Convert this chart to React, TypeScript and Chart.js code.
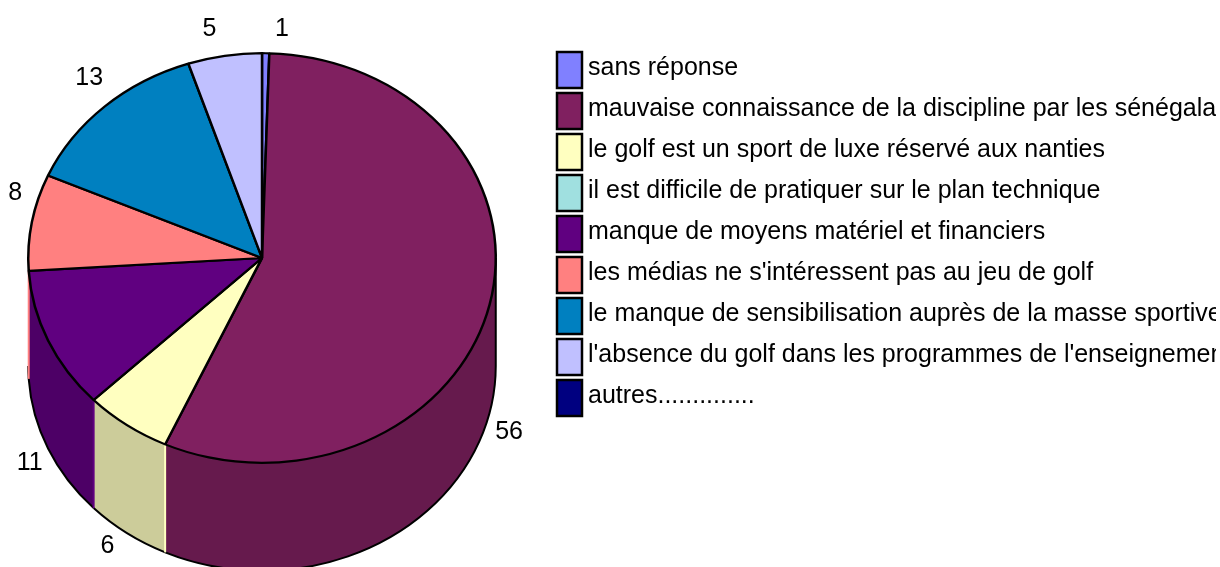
import React, { useEffect, useRef } from "react";
import { Chart, registerables } from "chart.js";

Chart.register(...registerables);

const categories = [
  "sans réponse",
  "mauvaise connaissance de la discipline par les sénégalais",
  "le golf est un sport de luxe réservé aux nanties",
  "il est difficile de pratiquer sur le plan technique",
  "manque de moyens matériel et financiers",
  "les médias ne s'intéressent pas au jeu de golf",
  "le manque de sensibilisation auprès de la masse sportive",
  "l'absence du golf dans les programmes de l'enseignement",
  "autres..............",
];
const values = [0.5, 56.3, 6, 0, 11.2, 7.6, 13.3, 5.1, 0];
const topColors = ["#8080ff", "#802060", "#ffffc0", "#a0e0e0", "#600080", "#ff8080", "#0080c0", "#c0c0ff", "#000080"];
const wallColors = ["#6666cc", "#661a4d", "#cccc9a", "#80b3b3", "#4d0066", "#cc6666", "#006699", "#9a9acc", "#000066"];
// small shifts of each value label from its slice's radial anchor
const labelNudgeX = [16, 0, -8, 0, 0, 3, -2, -12, 0];
const labelNudgeY = [-5, 14, -4, 0, 6, -27, -15, -8, 0];

const FONT = '25px "Liberation Sans", Arial, sans-serif';
const SQUASH = 205 / 234;
const DEPTH = 108;
const LABEL_GAP = 20;

const pie3d = {
  id: "pie3d",
  beforeDatasetsDraw(chart: any) {
    const { ctx } = chart;
    const arcs = chart.getDatasetMeta(0).data;
    ctx.save();
    arcs.forEach((arc: any, i: number) => {
      const { x, y, startAngle, endAngle, outerRadius } = arc.getProps(["x", "y", "startAngle", "endAngle", "outerRadius"], true);
      const a0 = Math.max(startAngle, 0);
      const a1 = Math.min(endAngle, Math.PI);
      if (a1 <= a0 || values[i] === 0) return;
      const rx = outerRadius;
      const ry = outerRadius * SQUASH;
      ctx.beginPath();
      ctx.ellipse(x, y, rx, ry, 0, a0, a1);
      ctx.ellipse(x, y + DEPTH, rx, ry, 0, a1, a0, true);
      ctx.closePath();
      ctx.fillStyle = wallColors[i];
      ctx.fill();
      ctx.beginPath();
      ctx.ellipse(x, y + DEPTH, rx, ry, 0, a0, a1);
      ctx.lineWidth = 2;
      ctx.strokeStyle = "#000";
      ctx.stroke();
    });
    arcs.forEach((arc: any, i: number) => {
      const { x, y, startAngle, endAngle, outerRadius } = arc.getProps(["x", "y", "startAngle", "endAngle", "outerRadius"], true);
      if (values[i] === 0) return;
      const rx = outerRadius;
      const ry = outerRadius * SQUASH;
      if (startAngle < 0 && endAngle > 0) {
        ctx.beginPath();
        ctx.moveTo(x + rx, y);
        ctx.lineTo(x + rx, y + DEPTH);
        ctx.strokeStyle = "#000";
        ctx.lineWidth = 2;
        ctx.stroke();
      }
      if (startAngle >= 0 && startAngle <= Math.PI) {
        const ex = x + rx * Math.cos(startAngle);
        const ey = y + ry * Math.sin(startAngle);
        ctx.beginPath();
        ctx.moveTo(ex, ey);
        ctx.lineTo(ex, ey + DEPTH);
        ctx.strokeStyle = topColors[i];
        ctx.lineWidth = 2;
        ctx.stroke();
      }
    });
    ctx.restore();
    const { x, y } = arcs[0].getProps(["x", "y"], true);
    ctx.save();
    ctx.translate(x, y);
    ctx.scale(1, SQUASH);
    ctx.translate(-x, -y);
  },
  afterDatasetsDraw(chart: any) {
    const { ctx } = chart;
    ctx.restore();
    const arcs = chart.getDatasetMeta(0).data;
    ctx.save();
    ctx.font = FONT;
    ctx.fillStyle = "#000";
    ctx.textAlign = "center";
    ctx.textBaseline = "middle";
    arcs.forEach((arc: any, i: number) => {
      if (values[i] === 0) return;
      const { x, y, startAngle, endAngle, outerRadius } = arc.getProps(["x", "y", "startAngle", "endAngle", "outerRadius"], true);
      const mid = (startAngle + endAngle) / 2;
      const s = Math.sin(mid);
      const lx = x + (outerRadius + LABEL_GAP) * Math.cos(mid) + labelNudgeX[i];
      const ly = y + (outerRadius * SQUASH + LABEL_GAP) * s + (s > 0 ? DEPTH : 0) + labelNudgeY[i] + 1;
      ctx.fillText(String(Math.round(values[i])), lx, ly);
    });
    // legend
    const boxX = 557, boxTop = 52, boxW = 25, boxH = 36, pitch = 41;
    ctx.textAlign = "left";
    categories.forEach((label, i) => {
      const top = boxTop + i * pitch;
      ctx.fillStyle = topColors[i];
      ctx.fillRect(boxX, top, boxW, boxH);
      ctx.strokeStyle = "#000";
      ctx.lineWidth = 2.5;
      ctx.strokeRect(boxX, top, boxW, boxH);
      ctx.fillStyle = "#000";
      ctx.fillText(label, 588, top + 16.5);
    });
    ctx.restore();
  },
};

export default function App() {
  const ref = useRef<HTMLCanvasElement>(null);
  useEffect(() => {
    const chart = new Chart(ref.current!, {
      type: "pie",
      data: {
        labels: categories,
        datasets: [
          {
            data: values,
            backgroundColor: topColors,
            borderColor: "#000",
            borderWidth: 2.5,
            clip: false,
          } as any,
        ],
      },
      options: {
        responsive: false,
        animation: false,
        layout: { padding: { top: 23, left: 27, right: 719, bottom: 74 } },
        plugins: { legend: { display: false }, tooltip: { enabled: false }, title: { display: false } },
      },
      plugins: [pie3d],
    });
    return () => chart.destroy();
  }, []);
  return (
    <div style={{ position: "absolute", left: 0, top: 0, width: 1216, height: 567, overflow: "hidden", background: "#fff" }}>
      <canvas ref={ref} width={1216} height={567} style={{ display: "block" }} />
    </div>
  );
}
